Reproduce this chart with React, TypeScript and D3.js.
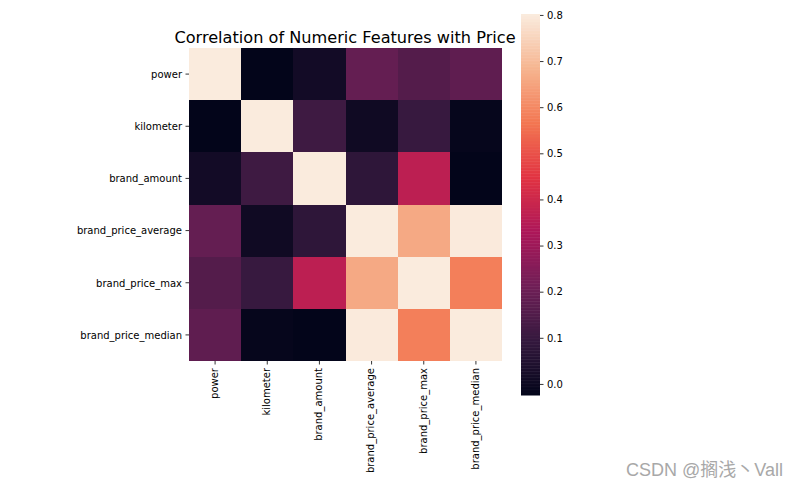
import React, { useEffect, useRef } from "react";
import * as d3 from "d3";

const features = [
  "power",
  "kilometer",
  "brand_amount",
  "brand_price_average",
  "brand_price_max",
  "brand_price_median",
];
const powerRow = [1, -0.024, 0.014, 0.188, 0.156, 0.178];
const kilometerRow = [-0.024, 1, 0.112, 0.007, 0.097, -0.017];
const amountRow = [0.014, 0.112, 1, 0.077, 0.365, -0.024];
const averageRow = [0.188, 0.007, 0.077, 1, 0.664, 0.8];
const maxRow = [0.156, 0.097, 0.365, 0.664, 1, 0.583];
const medianRow = [0.178, -0.017, -0.024, 0.8, 0.583, 1];
const rows = [powerRow, kilometerRow, amountRow, averageRow, maxRow, medianRow];

const colorTicks = [0, 0.1, 0.2, 0.3, 0.4, 0.5, 0.6, 0.7, 0.8];
const vmin = -0.024;
const vmax = 0.802;
// rocket colormap
const rocket = ["#03051a", "#35193e", "#701f57", "#ad1759", "#e13342", "#f37651", "#f6b48f", "#faebdd"];

const width = 799;
const height = 488;
const margin = { left: 189, top: 48, size: 313 };
const bar = { left: 521, width: 19, top: 14, bottom: 395 };

const App: React.FC = () => {
  const svgRef = useRef<SVGSVGElement | null>(null);

  useEffect(() => {
    if (!svgRef.current) return;
    const svg = d3.select(svgRef.current);
    svg.selectAll("*").remove();

    const x = d3.scaleBand<string>().domain(features).range([margin.left, margin.left + margin.size]);
    const y = d3.scaleBand<string>().domain(features).range([margin.top, margin.top + margin.size]);
    const color = d3
      .scaleLinear<string>()
      .domain(rocket.map((_, i) => vmin + ((vmax - vmin) * i) / (rocket.length - 1)))
      .range(rocket)
      .interpolate(d3.interpolateRgb)
      .clamp(true);

    rows.forEach((row, i) => {
      svg
        .append("g")
        .selectAll("rect")
        .data(row)
        .enter()
        .append("rect")
        .attr("x", (_, j) => x(features[j])!)
        .attr("y", y(features[i])!)
        .attr("width", x.bandwidth())
        .attr("height", y.bandwidth())
        .attr("shape-rendering", "crispEdges")
        .attr("fill", (d) => color(d));
    });

    const styleAxis = (g: d3.Selection<SVGGElement, unknown, null, undefined>) => {
      g.select(".domain").remove();
      g.selectAll("text").attr("font-family", "'DejaVu Sans'").attr("font-size", 10).attr("fill", "#000");
      g.selectAll("line").attr("stroke", "#000").attr("stroke-width", 0.8);
    };

    svg
      .append("g")
      .attr("transform", `translate(${margin.left},0)`)
      .call(d3.axisLeft(y).tickSize(3.5).tickPadding(3.5))
      .call(styleAxis)
      .selectAll("text")
      .attr("y", 0.7);

    const xAxis = svg
      .append("g")
      .attr("transform", `translate(0,${margin.top + margin.size})`)
      .call(d3.axisBottom(x).tickSize(3.5).tickPadding(3.5))
      .call(styleAxis);
    xAxis
      .selectAll("text")
      .attr("transform", "rotate(-90)")
      .attr("text-anchor", "end")
      .attr("x", -7)
      .attr("y", -0.7)
      .attr("dy", "0.35em");

    // colorbar
    const barScale = d3.scaleLinear().domain([vmin, vmax]).range([bar.bottom, bar.top]);
    const levels = d3.range(256).map((i) => vmin + ((vmax - vmin) * i) / 255);
    const step = (bar.bottom - bar.top) / 256;
    svg
      .append("g")
      .selectAll("rect")
      .data(levels)
      .enter()
      .append("rect")
      .attr("x", bar.left)
      .attr("width", bar.width)
      .attr("y", (_, i) => bar.bottom - (i + 1) * step)
      .attr("height", step + 0.5)
      .attr("fill", (d) => color(d));

    svg
      .append("g")
      .attr("transform", `translate(${bar.left + bar.width},0)`)
      .call(
        d3
          .axisRight(barScale)
          .tickValues(colorTicks)
          .tickFormat(d3.format(".1f"))
          .tickSize(3.5)
          .tickPadding(3.5)
      )
      .call(styleAxis);

    svg
      .append("text")
      .attr("x", margin.left + margin.size / 2 - 0.5)
      .attr("y", 43)
      .attr("text-anchor", "middle")
      .attr("font-family", "'DejaVu Sans'")
      .attr("font-size", 16.15)
      .attr("fill", "#000")
      .text("Correlation of Numeric Features with Price");

    svg
      .append("text")
      .attr("x", 626)
      .attr("y", 476)
      .attr("font-family", "'Liberation Sans', 'Noto Sans CJK SC'")
      .attr("font-size", 18)
      .attr("fill", "#a8a8a8")
      .text("CSDN @搁浅丶Vall");
  }, []);

  return (
    <svg
      ref={svgRef}
      width={width}
      height={height}
      style={{ position: "absolute", left: 0, top: 0, background: "#fff" }}
    ></svg>
  );
};

export default App;
